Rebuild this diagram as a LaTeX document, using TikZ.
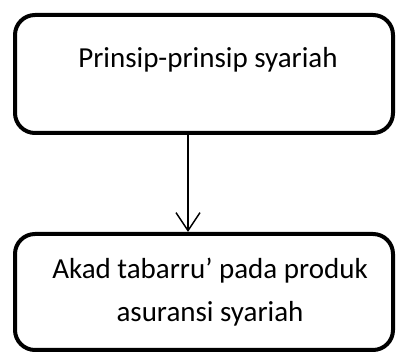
\documentclass[tikz,border=0pt]{standalone}
\usepackage{fontspec}
\setmainfont{Carlito}
\usetikzlibrary{arrows.meta}
\begin{document}
\begin{tikzpicture}[x=1pt,y=1pt,
  boxnode/.style={draw=black, line width=4pt, rounded corners=20pt, inner sep=0pt, minimum width=378pt},
  txt/.style={font=\fontsize{29}{43}\selectfont, align=center, inner sep=0pt},
  conn/.style={line width=1.5pt, -{Straight Barb[length=18pt,width=24pt,line width=1.5pt]}}]
\useasboundingbox (0,0) rectangle (396,352);
\node[boxnode, minimum height=118pt] (top) at (204,278) {};
\node[boxnode, minimum height=116pt] (bot) at (204,60) {};
\node[txt, anchor=base] (t1) at (208,284) {Prinsip-prinsip syariah};
\node[txt, anchor=center] (t2) at (210,60) {Akad tabarru’ pada produk\\asuransi syariah};
\coordinate (a1) at (188,219);
\coordinate (a2) at (188,120);
\draw[conn] (top.south -| a1) -- (bot.north -| a2);
\end{tikzpicture}
\end{document}
